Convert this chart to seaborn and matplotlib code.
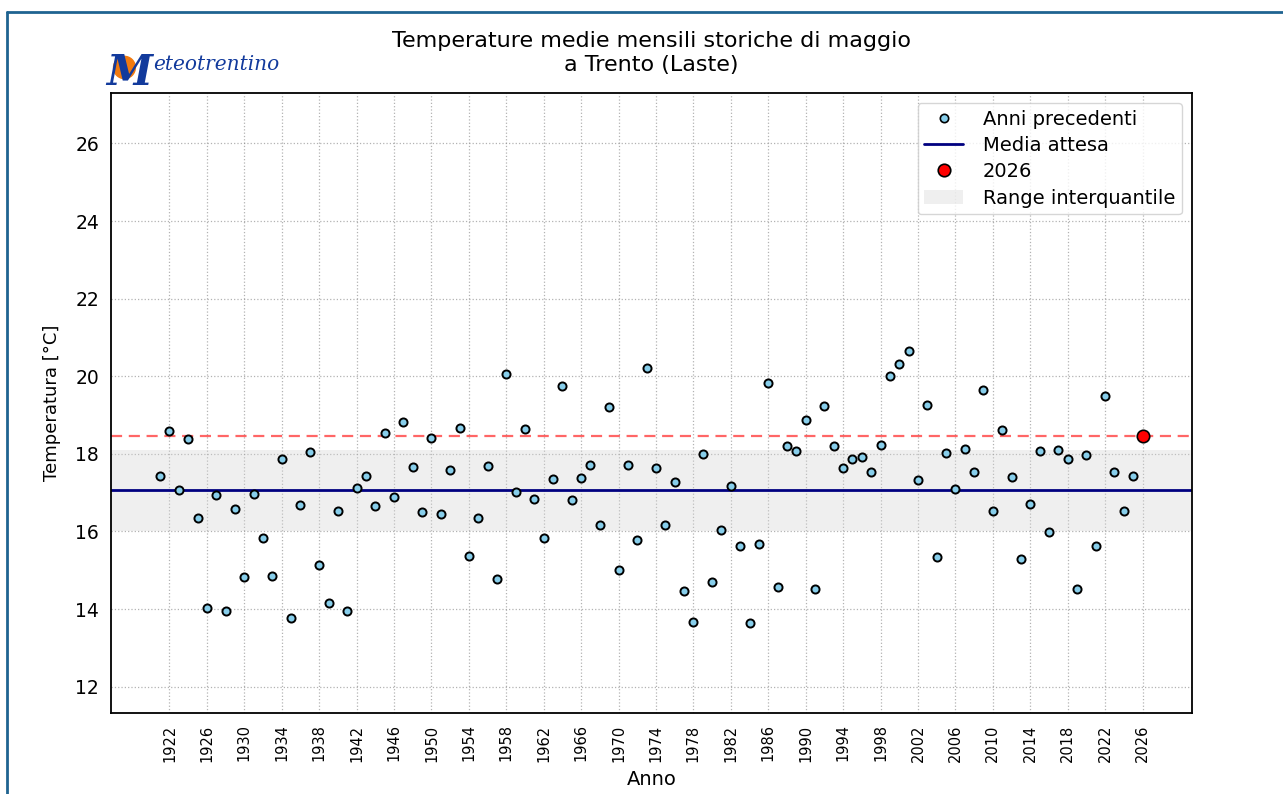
import numpy as np
import pandas as pd
import matplotlib
matplotlib.use("Agg")
import matplotlib.pyplot as plt
import seaborn as sns
from matplotlib.lines import Line2D
from matplotlib.patches import Patch, Ellipse

# Temperature medie di maggio, Trento (Laste)
anni = list(range(1921, 2026))
temperature = [
    17.44, 18.59, 17.06, 18.38, 16.36, 14.03, 16.93, 13.95, 16.58, 14.83,
    16.97, 15.84, 14.86, 17.88, 13.78, 16.67, 18.06, 15.14, 14.16, 16.53,
    13.96, 17.12, 17.42, 16.66, 18.53, 16.88, 18.82, 17.66, 16.51, 18.41,
    16.44, 17.59, 18.66, 15.36, 16.36, 17.68, 14.78, 20.05, 17.02, 18.64,
    16.84, 15.84, 17.36, 19.75, 16.80, 17.37, 17.72, 16.16, 19.22, 15.02,
    17.72, 15.78, 20.20, 17.63, 16.16, 17.28, 14.47, 13.66, 18.00, 14.69,
    16.03, 17.16, 15.62, 13.65, 15.69, 19.83, 14.56, 18.19, 18.08, 18.87,
    14.51, 19.24, 18.19, 17.63, 17.87, 17.93, 17.52, 18.24, 20.01, 20.31,
    20.66, 17.32, 19.25, 15.35, 18.03, 17.09, 18.12, 17.52, 19.64, 16.53,
    18.61, 17.41, 15.29, 16.72, 18.08, 15.99, 18.09, 17.86, 14.52, 17.97,
    15.63, 19.49, 17.54, 16.53, 17.44,
]
anno_corrente = 2026
temp_corrente = 18.45
media_attesa = 17.06
q25, q75 = 16.0, 18.11

df = pd.DataFrame({"Anno": anni, "Temperatura": temperature})

sns.set_style("white")
plt.rcParams["font.family"] = ["DejaVu Sans"]
plt.rcParams["text.color"] = "black"
plt.rcParams["axes.labelcolor"] = "black"
plt.rcParams["xtick.color"] = "black"
plt.rcParams["ytick.color"] = "black"

fig = plt.figure(figsize=(12.83, 7.94), dpi=100)
ax = fig.add_axes([0.0865, 0.1024, 0.8423, 0.7805])

ax.axhspan(q25, q75, color="lightgrey", alpha=0.35, lw=0, zorder=1)
ax.axhline(media_attesa, color="navy", lw=2, zorder=2)
ax.axhline(temp_corrente, color="red", alpha=0.6, lw=1.6, ls="--", dashes=(5, 3), zorder=2)

sns.scatterplot(data=df, x="Anno", y="Temperatura", ax=ax, color="skyblue",
                edgecolor="black", linewidth=1.4, s=34, zorder=3, legend=False)
ax.scatter([anno_corrente], [temp_corrente], color="red", edgecolor="black",
           linewidth=1.2, s=80, zorder=4)

ax.set_ylim(11.33, 27.3)
ax.set_xticks(list(range(1922, 2027, 4)))
ax.tick_params(axis="x", labelrotation=90, labelsize=10.5, length=5, width=1.2)
ax.tick_params(axis="y", labelsize=13.5, length=5, width=1.2)
ax.set_yticks([12, 14, 16, 18, 20, 22, 24, 26])
ax.grid(True, linestyle=":", color="grey", alpha=0.6, lw=0.9)
for sp in ax.spines.values():
    sp.set_color("black")
    sp.set_linewidth(1.3)

ax.set_xlabel("Anno", fontsize=14, labelpad=6)
ax.set_ylabel("Temperatura [°C]", fontsize=13, labelpad=10)
ax.set_title("Temperature medie mensili storiche di maggio\na Trento (Laste)",
             fontsize=16, pad=16, linespacing=1.25)

handles = [
    Line2D([], [], marker="o", ls="", markerfacecolor="skyblue",
           markeredgecolor="black", markersize=6, markeredgewidth=1.2),
    Line2D([], [], color="navy", lw=2),
    Line2D([], [], marker="o", ls="", markerfacecolor="red",
           markeredgecolor="black", markersize=9, markeredgewidth=1.2),
    Patch(facecolor="lightgrey", alpha=0.35, lw=0),
]
labels = ["Anni precedenti", "Media attesa", str(anno_corrente), "Range interquantile"]
ax.legend(handles, labels, loc="upper right", fontsize=14, labelspacing=0.38,
          handletextpad=1.0, borderpad=0.35, framealpha=0.8)

# logo Meteotrentino (sole arancione + testo)
fig.add_artist(Ellipse((0.097, 0.915), 0.017, 0.028, color="#f07a10",
                       transform=fig.transFigure, zorder=1))
fig.text(0.083, 0.893, "M", fontsize=30, color="#123a9c", fontstyle="italic",
         fontweight="bold", family="DejaVu Serif", zorder=2)
fig.text(0.119, 0.912, "eteotrentino", fontsize=14.5, color="#123a9c",
         fontstyle="italic", family="DejaVu Serif")

# cornice blu (sopra e a sinistra)
fig.add_artist(Line2D([0.0055, 1.0], [0.985, 0.985], color="#1f6391", lw=2,
                      transform=fig.transFigure))
fig.add_artist(Line2D([0.0055, 0.0055], [0.0, 0.985], color="#1f6391", lw=2,
                      transform=fig.transFigure))

fig.savefig("out.png", dpi=100)
